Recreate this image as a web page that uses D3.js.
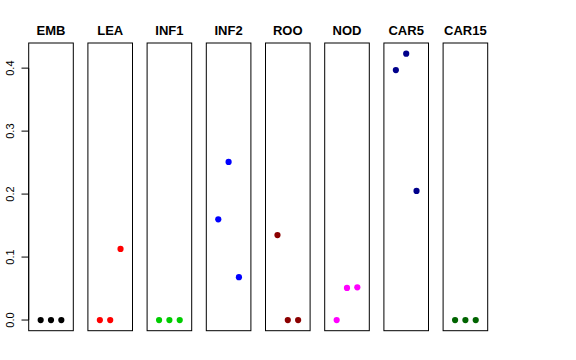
<!DOCTYPE html>
<html><head><meta charset="utf-8">
<script src="https://cdn.jsdelivr.net/npm/d3@7"></script>
<style>body{margin:0;background:#fff}svg{display:block}</style>
</head><body>
<svg id="c" width="576" height="360"></svg>
<script>
const categories = ["EMB","LEA","INF1","INF2","ROO","NOD","CAR5","CAR15"];
const colors = ["#000000","#FF0000","#00CD00","#0000FF","#8B0000","#FF00FF","#00008B","#006400"];
const values = [
  [0, 0, 0],
  [0, 0, 0.113],
  [0, 0, 0],
  [0.160, 0.251, 0.068],
  [0.135, 0, 0],
  [0, 0.051, 0.052],
  [0.397, 0.423, 0.205],
  [0, 0, 0]
];
const yTicks = [0, 0.1, 0.2, 0.3, 0.4];
const yTickLabels = ["0.0","0.1","0.2","0.3","0.4"];

(function () {
const svg = d3.select("#c");
const plotTop = 43, plotBottom = 330.7;
const panelW = 44.6, firstLeft = 28.7, step = 59.2;

const yMax = d3.max(values.flat());
const pad = yMax * 0.04;
const y = d3.scaleLinear().domain([-pad, yMax + pad]).range([plotBottom, plotTop]);

categories.forEach((cat, i) => {
  const left = firstLeft + step * i;
  const x = d3.scaleLinear().domain([-0.16, 4.16]).range([left, left + panelW]);
  const g = svg.append("g");
  g.append("rect").attr("x", left).attr("y", plotTop)
    .attr("width", panelW).attr("height", plotBottom - plotTop)
    .attr("fill", "none").attr("stroke", "#000").attr("stroke-width", 1);
  g.append("text").attr("x", left + panelW / 2).attr("y", 34.5)
    .attr("text-anchor", "middle")
    .style("font-family", "Liberation Sans, Arial, sans-serif")
    .style("font-weight", "bold").style("font-size", "13px")
    .text(cat);
  g.selectAll("circle").data(values[i]).enter().append("circle")
    .attr("cx", (d, j) => x(j + 1))
    .attr("cy", d => y(d))
    .attr("r", 3.1)
    .attr("fill", colors[i]);
});

// y axis
const ax = svg.append("g");
ax.append("line").attr("x1", firstLeft).attr("x2", firstLeft)
  .attr("y1", y(0)).attr("y2", y(0.4)).attr("stroke", "#000");
yTicks.forEach((t, k) => {
  ax.append("line").attr("x1", firstLeft - 7.2).attr("x2", firstLeft)
    .attr("y1", y(t)).attr("y2", y(t)).attr("stroke", "#000");
  ax.append("text")
    .attr("transform", `translate(14.3,${y(t)}) rotate(-90)`)
    .attr("text-anchor", "middle")
    .style("font-family", "Liberation Sans, Arial, sans-serif")
    .style("font-size", "11px")
    .text(yTickLabels[k]);
});
})();
</script>
</body></html>
